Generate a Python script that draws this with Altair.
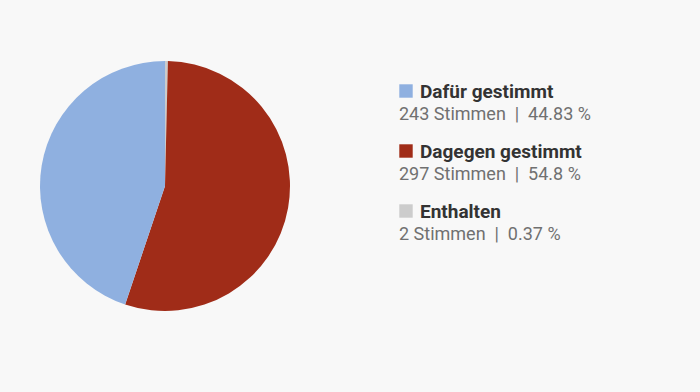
import altair as alt
import pandas as pd

labels = ["Enthalten", "Dagegen gestimmt", "Dafür gestimmt"]
votes = [2, 297, 243]
shares = ["0.37 %", "54.8 %", "44.83 %"]
colors = ["#cccccc", "#a02c18", "#8fb0e0"]
legend_rank = [2, 1, 0]

df = pd.DataFrame({
    "label": labels,
    "votes": votes,
    "share": shares,
    "order": [0, 1, 2],
    "rank": legend_rank,
})
df["sub"] = df["votes"].astype(str) + " Stimmen \u00a0|\u00a0 " + df["share"]

color_scale = alt.Scale(domain=labels, range=colors)
base = alt.Chart(df)

pie = base.mark_arc(outerRadius=125, stroke=None).encode(
    theta=alt.Theta("votes:Q", stack=True),
    order=alt.Order("order:Q"),
    color=alt.Color("label:N", scale=color_scale, legend=None),
    x=alt.value(165),
    y=alt.value(186),
)

yscale = alt.Scale(domain=[0, 2], range=[91, 211])

squares = base.mark_square(size=180, opacity=1).encode(
    x=alt.value(406),
    y=alt.Y("rank:Q", scale=yscale, axis=None),
    color=alt.Color("label:N", scale=color_scale, legend=None),
)

titles = base.mark_text(
    align="left", baseline="alphabetic", font="Roboto", fontSize=19,
    fontWeight="bold", color="#333333", dy=7,
).encode(
    x=alt.value(420),
    y=alt.Y("rank:Q", scale=yscale, axis=None),
    text="label:N",
)

subs = base.mark_text(
    align="left", baseline="alphabetic", font="Roboto", fontSize=18,
    color="#707070", dy=28.5,
).encode(
    x=alt.value(399),
    y=alt.Y("rank:Q", scale=yscale, axis=None),
    text="sub:N",
)

chart = alt.layer(pie, squares, titles, subs).properties(
    width=700, height=392, background="#f8f8f8",
    autosize=alt.AutoSizeParams(type="none"), padding=0,
).configure_view(stroke=None)

chart.save("out.html", embed_options={"renderer": "svg", "actions": False})
